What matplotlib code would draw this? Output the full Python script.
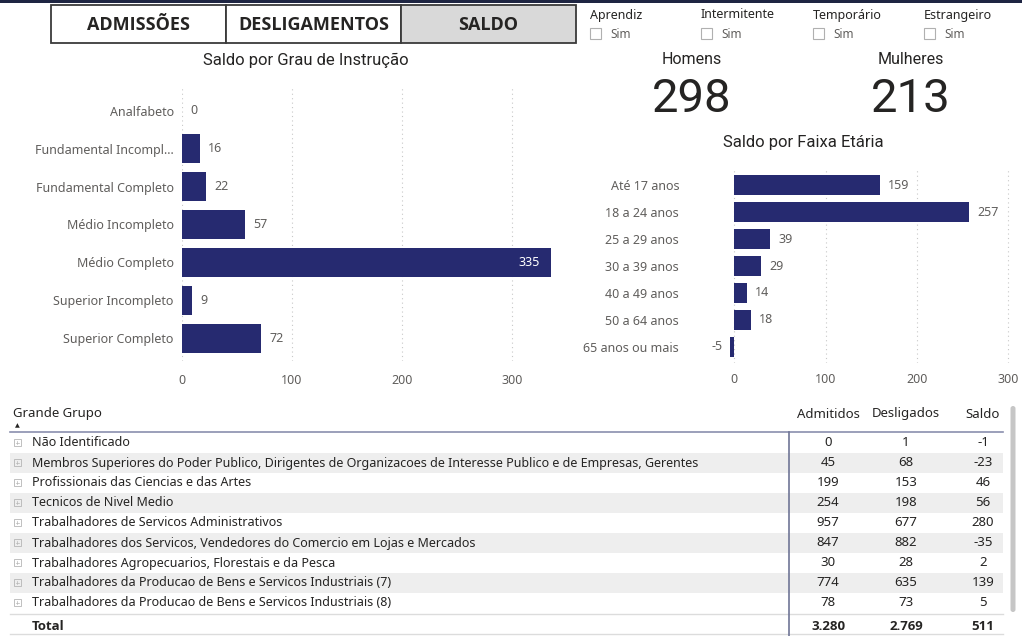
import matplotlib.pyplot as plt
from matplotlib.patches import Rectangle, FancyBboxPatch

W, H = 1022, 636

# ---- data ----
buttons = ['ADMISSÕES', 'DESLIGAMENTOS', 'SALDO']
slicers = ['Aprendiz', 'Intermitente', 'Temporário', 'Estrangeiro']
homens = 298
mulheres = 213

grau_labels = ['Analfabeto', 'Fundamental Incompl...', 'Fundamental Completo',
               'Médio Incompleto', 'Médio Completo', 'Superior Incompleto',
               'Superior Completo']
grau_saldo = [0, 16, 22, 57, 335, 9, 72]

faixa_labels = ['Até 17 anos', '18 a 24 anos', '25 a 29 anos', '30 a 39 anos',
                '40 a 49 anos', '50 a 64 anos', '65 anos ou mais']
faixa_saldo = [159, 257, 39, 29, 14, 18, -5]

grupos = ['Não Identificado',
          'Membros Superiores do Poder Publico, Dirigentes de Organizacoes de Interesse Publico e de Empresas, Gerentes',
          'Profissionais das Ciencias e das Artes',
          'Tecnicos de Nivel Medio',
          'Trabalhadores de Servicos Administrativos',
          'Trabalhadores dos Servicos, Vendedores do Comercio em Lojas e Mercados',
          'Trabalhadores Agropecuarios, Florestais e da Pesca',
          'Trabalhadores da Producao de Bens e Servicos Industriais (7)',
          'Trabalhadores da Producao de Bens e Servicos Industriais (8)']
admitidos = [0, 45, 199, 254, 957, 847, 30, 774, 78]
desligados = [1, 68, 153, 198, 677, 882, 28, 635, 73]
saldo = [-1, -23, 46, 56, 280, -35, 2, 139, 5]
total_row = ['3.280', '2.769', '511']

NAVY = '#262a70'
TXT = '#252423'
GREY = '#605e5c'
UI = 'Noto Sans'
BOLD = 'Open Sans'
DIN = 'Roboto'

fig = plt.figure(figsize=(W / 100, H / 100), dpi=100)
bg = fig.add_axes([0, 0, 1, 1])
bg.set_xlim(0, W)
bg.set_ylim(H, 0)
bg.axis('off')


def px_axes(left, top, width, height):
    return fig.add_axes([left / W, 1 - (top + height) / H, width / W, height / H])


# top strip
bg.add_patch(Rectangle((0, 0), W, 3, color='#1e2542', lw=0))

# buttons
bx = [51, 226, 401]
for i, name in enumerate(buttons):
    fc = '#d9d9d9' if name == 'SALDO' else 'white'
    bg.add_patch(Rectangle((bx[i], 5), 175, 38, fc=fc, ec='#3a3a3a', lw=1.3))
    bg.text(bx[i] + 87.5, 24.5, name, ha='center', va='center', fontsize=13,
            fontweight='bold', color=TXT, family=BOLD)

# slicers
sx = [590, 701, 813, 924]
for i, name in enumerate(slicers):
    bg.text(sx[i], 15, name, ha='left', va='center', fontsize=9, color=TXT, family=UI)
    bg.add_patch(Rectangle((sx[i], 28), 11, 11, fc='white', ec='#b0b0b0', lw=0.8))
    bg.text(sx[i] + 20, 34, 'Sim', ha='left', va='center', fontsize=8.5, color=GREY, family=UI)

# KPI cards
for cx, lab, val in [(692, 'Homens', homens), (911, 'Mulheres', mulheres)]:
    bg.text(cx, 60, lab, ha='center', va='center', fontsize=11.5, color=TXT, family=DIN)
    bg.text(cx, 112, str(val), ha='center', va='baseline', fontsize=34, color=TXT, family=DIN)

# chart titles
bg.text(306, 60, 'Saldo por Grau de Instrução', ha='center', va='center',
        fontsize=12, color=TXT, family=DIN)
bg.text(803, 143, 'Saldo por Faixa Etária', ha='center', va='center',
        fontsize=12, color=TXT, family=DIN)


def hbar(ax, labels, values, xlim, bar_h, inside=None, xpad=8, ypad=6):
    y = list(range(len(labels)))
    ax.barh(y, values, height=bar_h, color=NAVY, edgecolor='none', zorder=3)
    ax.set_xlim(*xlim)
    ax.set_ylim(len(labels) - 0.4, -0.6)
    ax.set_yticks(y)
    ax.set_yticklabels(labels, fontsize=9, color=GREY, family=UI)
    ax.set_xticks([0, 100, 200, 300])
    ax.tick_params(axis='x', labelsize=9, labelcolor=GREY, length=0, pad=xpad)
    ax.tick_params(axis='y', length=0, pad=ypad)
    for lbl in ax.get_xticklabels():
        lbl.set_family(UI)
    ax.grid(axis='x', ls=(0, (1, 3)), color='#c8c8c8', lw=0.8, zorder=0)
    for s in ax.spines.values():
        s.set_visible(False)
    for yi, v in zip(y, values):
        if inside is not None and v >= inside:
            ax.annotate(str(v), (v, yi), xytext=(-8, 0), textcoords='offset points',
                        ha='right', va='center', fontsize=9, color='white', family=UI)
        elif v < 0:
            ax.annotate(str(v), (v, yi), xytext=(-5, 0), textcoords='offset points',
                        ha='right', va='center', fontsize=9, color=GREY, family=UI)
        else:
            ax.annotate(str(v), (v, yi), xytext=(6, 0), textcoords='offset points',
                        ha='left', va='center', fontsize=9, color=GREY, family=UI)


ax1 = px_axes(182, 88, 385, 273)
hbar(ax1, grau_labels, grau_saldo, (0, 350), 0.77, inside=300, xpad=9.5, ypad=6)

ax2 = px_axes(725, 169, 288, 194)
hbar(ax2, faixa_labels, faixa_saldo, (-10, 305), 0.75, xpad=7.5, ypad=33)

# ---- table ----
cols = [828, 906, 983]
bg.text(13, 414, 'Grande Grupo', ha='left', va='center', fontsize=9.5, color=TXT, family=UI)
bg.text(17, 426, '▲', ha='center', va='center', fontsize=4.5, color=TXT)
for cx, name in zip(cols, ['Admitidos', 'Desligados', 'Saldo']):
    bg.text(cx, 414, name, ha='center', va='center', fontsize=9.5, color=TXT, family=UI)
bg.plot([10, 1003], [432, 432], color='#8a8fae', lw=1.2)

row0 = 443
for i, g in enumerate(grupos):
    yc = row0 + 20 * i
    if i % 2 == 1:
        bg.add_patch(Rectangle((10, yc - 10), 993, 20, color='#eeeeee', lw=0, zorder=0))
    bg.add_patch(Rectangle((13.5, yc - 4), 7, 7, fc='none', ec='#b5b5b5', lw=0.6))
    bg.plot([15.5, 18.5], [yc - 0.5, yc - 0.5], color='#b5b5b5', lw=0.5)
    bg.plot([17, 17], [yc - 2, yc + 1], color='#b5b5b5', lw=0.5)
    bg.text(32, yc, g, ha='left', va='center', fontsize=9, color=TXT, family=UI)
    for cx, v in zip(cols, [admitidos[i], desligados[i], saldo[i]]):
        bg.text(cx, yc, str(v), ha='center', va='center', fontsize=9.5, color=TXT, family=UI)

bg.plot([10, 1003], [614, 614], color='#dcdcdc', lw=1)
bg.text(32, 626, 'Total', ha='left', va='center', fontsize=9.5, fontweight='bold',
        color=TXT, family=BOLD)
for cx, v in zip(cols, total_row):
    bg.text(cx, 626, v, ha='center', va='center', fontsize=9.5, fontweight='bold',
            color=TXT, family=BOLD)
bg.plot([10, 1003], [634, 634], color='#dcdcdc', lw=1)
bg.plot([789, 789], [432, 636], color='#6f7596', lw=1.2)

bg.add_patch(FancyBboxPatch((1010.5, 406), 5, 206, boxstyle='round,pad=0,rounding_size=2.5',
                            fc='#c6c6c6', ec='none'))

fig.savefig('out.png', dpi=100)
